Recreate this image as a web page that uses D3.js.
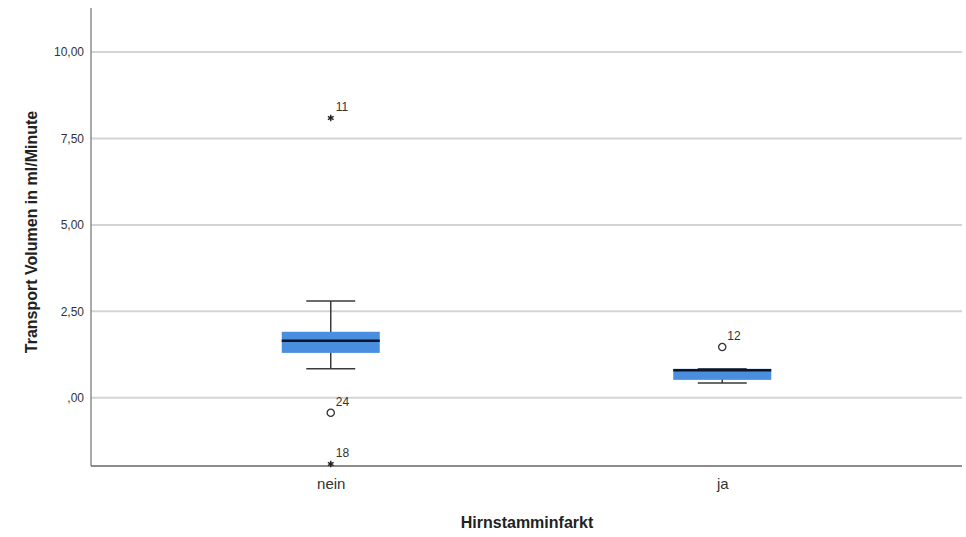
<!DOCTYPE html>
<html>
<head>
<meta charset="utf-8">
<script src="https://cdn.jsdelivr.net/npm/d3@7"></script>
<style>
  html, body { margin: 0; padding: 0; background: #fff; }
  svg { display: block; font-family: Arial, "Liberation Sans", sans-serif; }
</style>
</head>
<body>
<svg id="chart" width="966" height="537"></svg>
<script>
// Box plot summaries per group
const categories = ["nein", "ja"];
const whiskerLow  = [0.84, 0.43];
const quartile1   = [1.30, 0.52];
const medians     = [1.65, 0.80];
const quartile3   = [1.91, 0.84];
const whiskerHigh = [2.80, 0.84];

// Outlying cases with their case numbers
const outlierGroups = ["nein", "nein", "nein", "ja"];
const outlierValues = [8.09, -0.43, -1.91, 1.47];
const outlierIds    = ["11", "24", "18", "12"];
const outlierKinds  = ["extreme", "mild", "extreme", "mild"];

const yTicks = [0, 2.5, 5, 7.5, 10];

const svg = d3.select("#chart");
const plotLeft = 91, plotRight = 962, plotTop = 8, plotBottom = 466;

const y = d3.scaleLinear().domain([-1.97, 11.27]).range([plotBottom, plotTop]);
const x = d3.scalePoint().domain(categories).range([135, 918]).padding(0.5);
const boxW = 98, capW = 49;

const fmt = v => {
  const s = d3.format(".2f")(v).replace(".", ",");
  return s.startsWith("0,") ? s.slice(1) : s;
};

// Horizontal grid lines
svg.append("g")
  .selectAll("line")
  .data(yTicks)
  .join("line")
  .attr("x1", plotLeft).attr("x2", plotRight)
  .attr("y1", d => y(d)).attr("y2", d => y(d))
  .attr("stroke", "#d4d4d4").attr("stroke-width", 2);

// Y axis
const yAxis = svg.append("g")
  .attr("transform", `translate(${plotLeft},0)`)
  .call(d3.axisLeft(y).tickValues(yTicks).tickFormat(fmt).tickSize(0).tickPadding(7));
yAxis.select(".domain").remove();
yAxis.selectAll("text").attr("fill", "#333").style("font-size", "12px");
svg.append("line")
  .attr("x1", plotLeft).attr("x2", plotLeft).attr("y1", plotTop).attr("y2", plotBottom)
  .attr("stroke", "#8c8c8c").attr("stroke-width", 1.5);

// X axis
const xAxis = svg.append("g")
  .attr("transform", `translate(0,${plotBottom})`)
  .call(d3.axisBottom(x).tickSize(0).tickPadding(12));
xAxis.select(".domain").remove();
xAxis.selectAll("text").attr("fill", "#333").style("font-size", "15px");
svg.append("line")
  .attr("x1", plotLeft).attr("x2", plotRight).attr("y1", plotBottom).attr("y2", plotBottom)
  .attr("stroke", "#666").attr("stroke-width", 1.5);

// Axis titles
svg.append("text")
  .attr("x", 527).attr("y", 528)
  .attr("text-anchor", "middle")
  .attr("fill", "#222")
  .style("font-size", "16px").style("font-weight", "bold")
  .text("Hirnstamminfarkt");
svg.append("text")
  .attr("transform", "translate(37,232) rotate(-90)")
  .attr("text-anchor", "middle")
  .attr("fill", "#222")
  .style("font-size", "16px").style("font-weight", "bold")
  .text("Transport Volumen in ml/Minute");

// Boxes
const boxes = categories.map((c, i) => ({
  c, lo: whiskerLow[i], q1: quartile1[i], med: medians[i], q3: quartile3[i], hi: whiskerHigh[i]
}));
const g = svg.append("g").selectAll("g").data(boxes).join("g");
const stroke = "#3a3a3a";

g.append("line")
  .attr("x1", d => x(d.c)).attr("x2", d => x(d.c))
  .attr("y1", d => y(d.hi)).attr("y2", d => y(d.lo))
  .attr("stroke", stroke).attr("stroke-width", 1.5);
g.append("line")
  .attr("x1", d => x(d.c) - capW / 2).attr("x2", d => x(d.c) + capW / 2)
  .attr("y1", d => y(d.hi)).attr("y2", d => y(d.hi))
  .attr("stroke", stroke).attr("stroke-width", 1.5);
g.append("line")
  .attr("x1", d => x(d.c) - capW / 2).attr("x2", d => x(d.c) + capW / 2)
  .attr("y1", d => y(d.lo)).attr("y2", d => y(d.lo))
  .attr("stroke", stroke).attr("stroke-width", 1.5);
g.append("rect")
  .attr("x", d => x(d.c) - boxW / 2).attr("width", boxW)
  .attr("y", d => y(d.q3)).attr("height", d => y(d.q1) - y(d.q3))
  .attr("fill", "#4a8ee0");
g.append("line")
  .attr("x1", d => x(d.c) - boxW / 2).attr("x2", d => x(d.c) + boxW / 2)
  .attr("y1", d => y(d.med)).attr("y2", d => y(d.med))
  .attr("stroke", "#0d1526").attr("stroke-width", 2.6);

// Outliers: circles for mild, asterisks for extreme cases
const outs = outlierValues.map((v, i) => ({ c: outlierGroups[i], v, id: outlierIds[i], kind: outlierKinds[i] }));
const og = svg.append("g").selectAll("g").data(outs).join("g")
  .attr("transform", d => `translate(${x(d.c)},${y(d.v)})`);
og.filter(d => d.kind === "mild").append("circle")
  .attr("r", 3.6).attr("fill", "#fff").attr("stroke", "#333").attr("stroke-width", 1.3);
og.filter(d => d.kind === "extreme").append("path")
  .attr("d", d3.symbol(d3.symbolAsterisk, 30))
  .attr("fill", "none").attr("stroke", "#222").attr("stroke-width", 1.4);
og.append("text")
  .attr("x", 5).attr("y", -7)
  .attr("fill", "#333")
  .style("font-size", "12px")
  .text(d => d.id);
</script>
</body>
</html>
